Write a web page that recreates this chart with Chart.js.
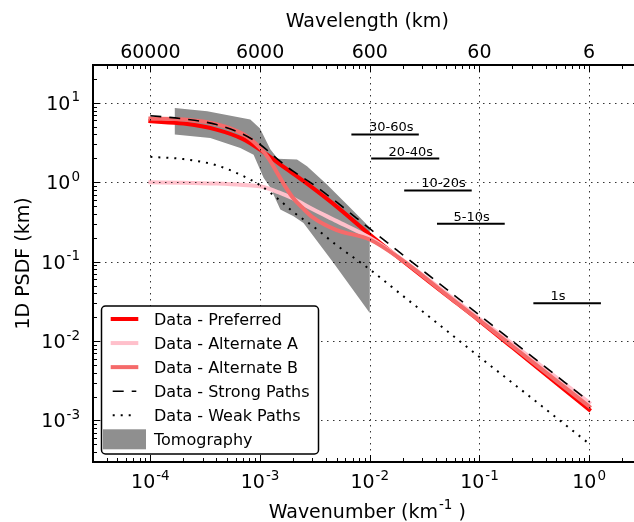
<!DOCTYPE html>
<html>
<head>
<meta charset="utf-8">
<script src="https://cdn.jsdelivr.net/npm/chart.js@4.4.1/dist/chart.umd.min.js"></script>
<style>
  html, body { margin: 0; padding: 0; background: #fff; overflow: hidden; width: 634px; height: 522px; }
  #wrap { position: relative; width: 634px; height: 522px; overflow: hidden; }
  canvas { position: absolute; left: 0; top: 0; }
</style>
</head>
<body>
<div id="wrap"><canvas id="c" width="650" height="522"></canvas></div>
<script>
// Wavenumber samples (km^-1) for the data-derived spectra
const kModel = [1e-4, 2e-4, 4e-4, 7e-4, 1e-3, 1.5e-3, 2e-3, 3e-3, 5e-3, 1e-2, 2e-2, 5e-2, 0.1, 0.2, 0.5, 1];
const psdPreferred = [5.87, 5.49, 4.61, 3.50, 2.58, 1.71, 1.29, 0.857, 0.494, 0.2195, 0.102, 0.038, 0.018, 0.0083, 0.00298, 0.00137];
const psdAltA      = [1.0, 0.99, 0.964, 0.927, 0.89, 0.741, 0.624, 0.46, 0.324, 0.2, 0.105, 0.0398, 0.0191, 0.0092, 0.0035, 0.00168];
const psdStrong    = [6.9, 6.29, 5.33, 4.02, 2.99, 1.87, 1.38, 0.955, 0.561, 0.26, 0.122, 0.0451, 0.0212, 0.00998, 0.00368, 0.00173];
const psdWeak      = [2.09, 1.96, 1.64, 1.2, 0.917, 0.598, 0.425, 0.283, 0.161, 0.08, 0.0372, 0.0136, 0.0063, 0.00297, 0.00109, 0.00051];

// Alternate B has a sharp knee near 1e-3, so it is sampled more finely there
const kAltB   = [1e-4, 2e-4, 4e-4, 7e-4, 1e-3, 1.2e-3, 1.5e-3, 1.7e-3, 2e-3, 2.5e-3, 3e-3, 5e-3, 1e-2, 2e-2, 5e-2, 0.1, 0.2, 0.5, 1];
const psdAltB = [6.34, 6.17, 5.41, 4.05, 2.71, 1.99, 1.18, 0.88, 0.632, 0.46, 0.365, 0.25, 0.19, 0.103, 0.0382, 0.0182, 0.0086, 0.00318, 0.0015];

// Tomography envelope: upper and lower bounds
const tomoUpperK   = [1.67e-4, 3.3e-4, 8.15e-4, 1.0e-3, 1.24e-3, 1.45e-3, 2.17e-3, 2.68e-3, 4.07e-3, 6.2e-3, 1e-2];
const tomoUpperPsd = [8.65, 7.84, 6.16, 4.75, 2.6, 1.98, 1.93, 1.59, 0.935, 0.524, 0.269];
const tomoLowerK   = [1.67e-4, 3.52e-4, 6.61e-4, 8.73e-4, 1.077e-3, 1.24e-3, 1.53e-3, 2.02e-3, 2.49e-3, 4.68e-3, 1e-2];
const tomoLowerPsd = [3.99, 3.62, 2.71, 2.23, 1.14, 0.857, 0.453, 0.373, 0.308, 0.0966, 0.02265];

// Period bands
const periodLabels = ['30-60s', '20-40s', '10-20s', '5-10s', '1s'];
const periodKStart = [6.8e-3, 1.03e-2, 2.06e-2, 4.1e-2, 0.31];
const periodKEnd   = [2.8e-2, 4.3e-2, 8.5e-2, 0.17, 1.28];
const periodLevel  = [4.0, 1.99, 0.79, 0.30, 0.030];
const periodLabelK = [1.57e-2, 2.37e-2, 4.7e-2, 8.5e-2, 0.52];

// Axis ticks
const xMajor = [1e-4, 1e-3, 1e-2, 1e-1, 1];
const xTickExp = ['-4', '-3', '-2', '-1', '0'];
const wavelengthLabels = ['60000', '6000', '600', '60', '6'];
const yMajor = [1e-3, 1e-2, 1e-1, 1, 10];
const yTickExp = ['-3', '-2', '-1', '0', '1'];

const X_MIN = 3e-5, X_MAX = 3, Y_MIN = 3e-4, Y_MAX = 30;
const FONT = "'DejaVu Sans', 'Liberation Sans', sans-serif";

const toXY = (ks, vs) => ks.map((k, i) => ({ x: k, y: vs[i] }));
const tomoShape = toXY(tomoUpperK, tomoUpperPsd).concat(toXY(tomoLowerK, tomoLowerPsd).reverse());

const base = { showLine: true, pointRadius: 0, pointHoverRadius: 0, fill: false, cubicInterpolationMode: 'monotone' };

const datasets = [
  Object.assign({}, base, {
    label: 'Tomography', data: tomoShape, order: 9, tension: 0, cubicInterpolationMode: 'default',
    borderWidth: 0, borderColor: 'rgba(0,0,0,0)', backgroundColor: '#8f8f8f', fill: 'shape'
  }),
  Object.assign({}, base, { label: 'Data - Preferred', data: toXY(kModel, psdPreferred), order: 6,
    borderColor: '#ff0000', borderWidth: 4, borderCapStyle: 'square' }),
  Object.assign({}, base, { label: 'Data - Alternate A', data: toXY(kModel, psdAltA), order: 5,
    borderColor: '#ffc0cb', borderWidth: 4, borderCapStyle: 'square' }),
  Object.assign({}, base, { label: 'Data - Alternate B', data: toXY(kAltB, psdAltB), order: 4,
    borderColor: '#f56a6a', borderWidth: 4, borderCapStyle: 'square' }),
  Object.assign({}, base, { label: 'Data - Strong Paths', data: toXY(kModel, psdStrong), order: 3,
    borderColor: '#000000', borderWidth: 1.6, borderDash: [11, 8] }),
  Object.assign({}, base, { label: 'Data - Weak Paths', data: toXY(kModel, psdWeak), order: 2,
    borderColor: '#000000', borderWidth: 2, borderDash: [2, 6] })
];

periodLabels.forEach((lab, i) => {
  datasets.push(Object.assign({}, base, {
    label: lab, data: [{ x: periodKStart[i], y: periodLevel[i] }, { x: periodKEnd[i], y: periodLevel[i] }],
    order: 1, borderColor: '#000000', borderWidth: 2, cubicInterpolationMode: 'default', tension: 0
  }));
});

// legend rows, in drawing order
const legendRows = [
  { text: 'Data - Preferred', kind: 'solid', color: '#ff0000' },
  { text: 'Data - Alternate A', kind: 'solid', color: '#ffc0cb' },
  { text: 'Data - Alternate B', kind: 'solid', color: '#f56a6a' },
  { text: 'Data - Strong Paths', kind: 'dash', color: '#000' },
  { text: 'Data - Weak Paths', kind: 'dot', color: '#000' },
  { text: 'Tomography', kind: 'patch', color: '#8f8f8f' }
];

function seg(ctx, x1, y1, x2, y2) {
  ctx.beginPath(); ctx.moveTo(x1, y1); ctx.lineTo(x2, y2); ctx.stroke();
}

// "10" with a raised exponent
function powLabel(ctx, exp, x, baseline, align, size, supSize, rise) {
  ctx.font = size + 'px ' + FONT;
  const wb = ctx.measureText('10').width;
  ctx.font = supSize + 'px ' + FONT;
  const we = ctx.measureText(exp).width;
  const total = wb + 1 + we;
  const left = align === 'center' ? x - total / 2 : x - total;
  ctx.textAlign = 'left';
  ctx.textBaseline = 'alphabetic';
  ctx.font = size + 'px ' + FONT;
  ctx.fillText('10', left, baseline);
  ctx.font = supSize + 'px ' + FONT;
  ctx.fillText(exp, left + wb + 1, baseline - rise);
}

function logTicks(min, max) {
  const out = [];
  for (let e = Math.floor(Math.log10(min)); e <= Math.ceil(Math.log10(max)); e++) {
    for (let m = 1; m <= 9; m++) {
      const v = m * Math.pow(10, e);
      if (v >= min * 0.999 && v <= max * 1.001) out.push({ v, major: m === 1 });
    }
  }
  return out;
}

const axesPlugin = {
  id: 'mplAxes',
  afterDatasetsDraw(chart) {
    const { ctx, chartArea: a, scales: { x, y } } = chart;
    ctx.save();

    // dotted grid at decades
    ctx.strokeStyle = '#000';
    ctx.lineWidth = 0.8;
    ctx.setLineDash([1.5, 4.5]);
    xMajor.forEach(v => { const px = Math.round(x.getPixelForValue(v)) + 0.5; seg(ctx, px, a.top, px, a.bottom); });
    yMajor.forEach(v => { const py = Math.round(y.getPixelForValue(v)) + 0.5; seg(ctx, a.left, py, a.right, py); });
    ctx.setLineDash([]);

    // inward tick marks
    ctx.lineWidth = 1;
    logTicks(X_MIN, X_MAX).forEach(t => {
      const px = Math.round(x.getPixelForValue(t.v)) + 0.5;
      const len = t.major ? 7 : 4;
      seg(ctx, px, a.bottom, px, a.bottom - len);
      seg(ctx, px, a.top, px, a.top + len);
    });
    logTicks(Y_MIN, Y_MAX).forEach(t => {
      const py = Math.round(y.getPixelForValue(t.v)) + 0.5;
      const len = t.major ? 7 : 4;
      seg(ctx, a.left, py, a.left + len, py);
    });

    // frame
    ctx.lineWidth = 2;
    ctx.beginPath();
    ctx.moveTo(a.right + 2, a.top);
    ctx.lineTo(a.left, a.top);
    ctx.lineTo(a.left, a.bottom);
    ctx.lineTo(a.right + 2, a.bottom);
    ctx.stroke();

    ctx.fillStyle = '#000';
    // bottom tick labels
    xMajor.forEach((v, i) => powLabel(ctx, xTickExp[i], x.getPixelForValue(v), 488, 'center', 19, 13.5, 8));
    // left tick labels
    yMajor.forEach((v, i) => powLabel(ctx, yTickExp[i], 80, y.getPixelForValue(v) + 7, 'right', 19, 13.5, 8.5));
    // top wavelength labels
    ctx.font = '19px ' + FONT;
    ctx.textAlign = 'center';
    ctx.textBaseline = 'alphabetic';
    xMajor.forEach((v, i) => ctx.fillText(wavelengthLabels[i], x.getPixelForValue(v), 58));

    // axis titles
    const cx = (a.left + a.right) / 2;
    ctx.fillText('Wavelength (km)', cx, 27);
    {
      ctx.font = '19px ' + FONT;
      const p1 = 'Wavenumber (km', p3 = ' )';
      const w1 = ctx.measureText(p1).width, w3 = ctx.measureText(p3).width;
      ctx.font = '13.5px ' + FONT;
      const w2 = ctx.measureText('-1').width;
      const left = cx - (w1 + w2 + w3 + 1) / 2;
      ctx.textAlign = 'left';
      ctx.font = '19px ' + FONT;
      ctx.fillText(p1, left, 518);
      ctx.font = '13.5px ' + FONT;
      ctx.fillText('-1', left + w1 + 1, 509);
      ctx.font = '19px ' + FONT;
      ctx.fillText(p3, left + w1 + 1 + w2, 518);
    }
    ctx.save();
    ctx.translate(28.5, (a.top + a.bottom) / 2);
    ctx.rotate(-Math.PI / 2);
    ctx.textAlign = 'center';
    ctx.fillText('1D PSDF (km)', 0, 0);
    ctx.restore();

    // period band labels
    ctx.font = '13px ' + FONT;
    ctx.textAlign = 'center';
    periodLabels.forEach((lab, i) => {
      ctx.fillText(lab, x.getPixelForValue(periodLabelK[i]), y.getPixelForValue(periodLevel[i]) - 3);
    });

    // legend
    const L = { x0: 101.5, y0: 306, x1: 318.5, y1: 454, r: 4 };
    ctx.beginPath();
    ctx.roundRect(L.x0, L.y0, L.x1 - L.x0, L.y1 - L.y0, L.r);
    ctx.fillStyle = '#fff';
    ctx.fill();
    ctx.lineWidth = 1.5;
    ctx.strokeStyle = '#000';
    ctx.stroke();
    ctx.font = '16px ' + FONT;
    ctx.textAlign = 'left';
    legendRows.forEach((r, i) => {
      const cy = 319 + i * 24.06;
      ctx.save();
      if (r.kind === 'solid') {
        ctx.strokeStyle = r.color; ctx.lineWidth = 4; ctx.lineCap = 'square';
        seg(ctx, 112.7, cy, 136.3, cy);
      } else if (r.kind === 'dash') {
        ctx.strokeStyle = r.color; ctx.lineWidth = 1.6; ctx.setLineDash([11, 8]);
        seg(ctx, 112.7, cy, 136.3, cy);
      } else if (r.kind === 'dot') {
        ctx.strokeStyle = r.color; ctx.lineWidth = 2; ctx.setLineDash([2, 6]);
        seg(ctx, 112.7, cy, 136.3, cy);
      } else {
        ctx.fillStyle = r.color;
        ctx.fillRect(103, cy - 10, 43, 20);
      }
      ctx.restore();
      ctx.fillStyle = '#000';
      ctx.fillText(r.text, 154, cy + 6);
    });

    ctx.restore();
  }
};

new Chart(document.getElementById('c'), {
  type: 'scatter',
  data: { datasets },
  options: {
    responsive: false,
    devicePixelRatio: 1,
    animation: false,
    events: [],
    layout: { padding: { left: 93, right: 8.5, top: 65, bottom: 60 } },
    plugins: { legend: { display: false }, tooltip: { enabled: false } },
    scales: {
      x: { type: 'logarithmic', min: X_MIN, max: X_MAX, display: false },
      y: { type: 'logarithmic', min: Y_MIN, max: Y_MAX, display: false }
    }
  },
  plugins: [axesPlugin]
});
</script>
</body>
</html>
